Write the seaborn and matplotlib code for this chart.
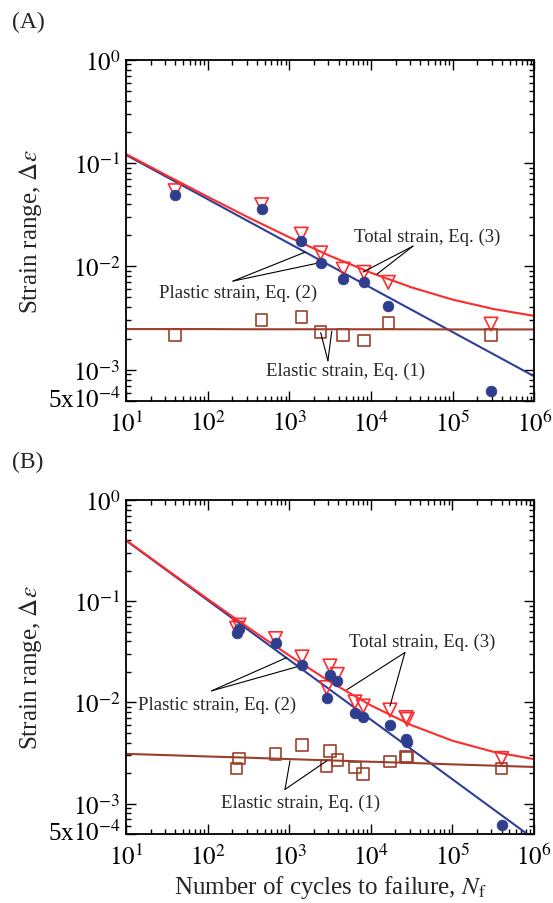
import numpy as np
import pandas as pd
import matplotlib
matplotlib.use("Agg")
import matplotlib.pyplot as plt
import matplotlib.ticker as mticker
import matplotlib.transforms as mtransforms
import seaborn as sns

# ---- data ----
# panel A
a_N = [40, 458, 1400, 2415, 4570, 8180, 16260, 294000]
a_total = [0.054, 0.0395, 0.0205, 0.0135, 0.0094, 0.00875, 0.0070, 0.00276]
a_plastic = [0.049, 0.0359, 0.0176, 0.0108, 0.00754, 0.0071, 0.0041, 0.000625]
a_elastic = [0.00216, 0.00304, 0.00325, 0.00233, 0.00216, 0.00191, 0.00283, 0.00216]

# panel B
b_N = [227, 243, 682, 1436, 2877, 3162, 3890, 6400, 8090, 17200, 27000, 28000, 402000]
b_total = [0.054, 0.058, 0.0427, 0.0281, 0.0140, 0.0229, 0.0189, 0.0101, 0.0092,
           0.0084, 0.00708, 0.0068, 0.00279]
b_plastic = [0.048, 0.053, 0.0384, 0.0232, 0.0111, 0.0186, 0.0162, 0.0078, 0.00724,
             0.00594, 0.00432, 0.00405, 0.000615]
b_elastic = [0.00222, 0.00279, 0.00307, 0.00379, 0.00235, 0.00331, 0.00268, 0.00227,
             0.00195, 0.0026, 0.00291, 0.00285, 0.00222]

# fitted curves (Eq. 1-3), sampled every half decade
curve_N = [10, 31.6, 100, 316, 1000, 3162, 1e4, 31623, 1e5, 316228, 1e6]
a_fit_elastic = [0.00247, 0.00247, 0.00247, 0.00246, 0.00246, 0.00246, 0.00246,
                 0.00246, 0.00245, 0.00245, 0.00245]
a_fit_plastic = [0.1199, 0.0732, 0.0447, 0.02725, 0.01663, 0.01015, 0.00619,
                 0.00378, 0.002307, 0.001408, 0.000859]
a_fit_total = [0.1224, 0.0757, 0.0472, 0.0297, 0.0191, 0.0126, 0.00866,
               0.00624, 0.00476, 0.00386, 0.00331]
b_fit_elastic = [0.00310, 0.00301, 0.00292, 0.00284, 0.00275, 0.00267, 0.00259,
                 0.00252, 0.00244, 0.00237, 0.00230]
b_fit_plastic = [0.398, 0.2018, 0.1023, 0.0519, 0.0263, 0.01334, 0.00676,
                 0.00343, 0.00174, 0.000881, 0.000447]
b_fit_total = [0.401, 0.2048, 0.1052, 0.0547, 0.0291, 0.0160, 0.00935,
               0.00595, 0.00418, 0.00325, 0.00275]

y_ticks = [5e-4, 1e-3, 1e-2, 1e-1, 1]
y_ticklabels = [r"5x$10^{-4}$", r"$10^{-3}$", r"$10^{-2}$", r"$10^{-1}$", r"$10^{0}$"]
x_ticks = [1e1, 1e2, 1e3, 1e4, 1e5, 1e6]
x_ticklabels = [r"$10^{1}$", r"$10^{2}$", r"$10^{3}$", r"$10^{4}$", r"$10^{5}$", r"$10^{6}$"]

RED = "#ff2b2b"
BLUE = "#2d3f98"
DOT = "#2f3d8e"
BROWN = "#9c3e2c"

sns.set_style("ticks")
plt.rcParams["font.family"] = ["Liberation Serif", "DejaVu Serif"]
plt.rcParams["mathtext.fontset"] = "stix"

fig = plt.figure(figsize=(5.53, 9.04), dpi=100)
ax_a = fig.add_axes([0.2278, 0.5556, 0.7387, 0.3772])
ax_b = fig.add_axes([0.2278, 0.0763, 0.7378, 0.3695])


def draw_panel(ax, N, total, plastic, elastic, fit_e, fit_p, fit_t):
    sns.lineplot(x=curve_N, y=fit_p, ax=ax, color=BLUE, lw=1.5, estimator=None, sort=False)
    sns.lineplot(x=curve_N, y=fit_e, ax=ax, color=BROWN, lw=1.5, estimator=None, sort=False)
    sns.lineplot(x=curve_N, y=fit_t, ax=ax, color=RED, lw=1.5, estimator=None, sort=False)
    sns.scatterplot(x=N, y=total, ax=ax, marker="v", s=95, facecolors="none",
                    edgecolor=RED, linewidth=1.2, zorder=3)
    sns.scatterplot(x=N, y=elastic, ax=ax, marker="s", s=70, facecolors="none",
                    edgecolor=BROWN, linewidth=1.2, zorder=3)
    sns.scatterplot(x=N, y=plastic, ax=ax, marker="o", s=60, color=DOT,
                    edgecolor=DOT, linewidth=0.5, zorder=4)
    ax.set_xscale("log")
    ax.set_yscale("log")
    ax.set_xlim(10, 1e6)
    ax.set_ylim(5e-4, 1)
    ax.set_yticks(y_ticks)
    ax.set_yticklabels(y_ticklabels)
    ax.set_xticks(x_ticks)
    ax.set_xticklabels(x_ticklabels)
    ax.xaxis.set_minor_locator(mticker.LogLocator(base=10, subs=np.arange(2, 10)))
    ax.yaxis.set_minor_locator(mticker.LogLocator(base=10, subs=np.arange(2, 10)))
    ax.xaxis.set_minor_formatter(mticker.NullFormatter())
    ax.yaxis.set_minor_formatter(mticker.NullFormatter())
    ax.tick_params(which="both", direction="in", top=True, right=True, width=1.0,
                   labelsize=18, colors="black")
    ax.tick_params(which="major", length=7, pad=4)
    ax.tick_params(axis="x", which="major", pad=7)
    ax.tick_params(which="minor", length=3.5)
    # lift the bottom "5x10^-4" label a little, as in the reference
    lab = ax.get_yticklabels()[0]
    lab.set_transform(lab.get_transform() + mtransforms.ScaledTranslation(0, 3 / 72, fig.dpi_scale_trans))
    for s in ax.spines.values():
        s.set_linewidth(1.3)
        s.set_color("black")
    ax.set_ylabel(r"Strain range, $\mathit{\Delta\varepsilon}$", fontsize=18, labelpad=3)
    ax.set_xlabel("")


def note(ax, text, xy_text, start, ends):
    ax.text(xy_text[0], xy_text[1], text, fontsize=13.5, ha="center", va="center")
    for e in ends:
        ax.annotate("", xy=e, xytext=start,
                    arrowprops=dict(arrowstyle="-", lw=0.8, color="black",
                                    shrinkA=0, shrinkB=0))


draw_panel(ax_a, a_N, a_total, a_plastic, a_elastic, a_fit_elastic, a_fit_plastic, a_fit_total)
draw_panel(ax_b, b_N, b_total, b_plastic, b_elastic, b_fit_elastic, b_fit_plastic, b_fit_total)

note(ax_a, "Total strain, Eq. (3)", (48300, 0.0196), (32600, 0.0157),
     [(7960, 0.0088), (11800, 0.0084)])
note(ax_a, "Plastic strain, Eq. (2)", (235, 0.00563), (204, 0.0072),
     [(1552, 0.0137), (2300, 0.0108)])
note(ax_a, "Elastic strain, Eq. (1)", (4930, 0.000976), (2965, 0.00122),
     [(2415, 0.00228), (3300, 0.00235)])

note(ax_b, "Total strain, Eq. (3)", (42400, 0.0402), (26200, 0.0311),
     [(5070, 0.0133), (17200, 0.0092)])
note(ax_b, "Plastic strain, Eq. (2)", (129, 0.00958), (112, 0.0130),
     [(931, 0.0277), (1355, 0.0229)])
note(ax_b, "Elastic strain, Eq. (1)", (1387, 0.00102), (889, 0.00138),
     [(1023, 0.00264), (2884, 0.00264)])

ax_b.set_xlabel(r"Number of cycles to failure, $N_\mathrm{f}$", fontsize=18, labelpad=3)

fig.text(28 / 553, 1 - 22 / 904, "(A)", fontsize=17, ha="center", va="center")
fig.text(28 / 553, 1 - 462 / 904, "(B)", fontsize=17, ha="center", va="center")

fig.savefig("out.png", dpi=100)
